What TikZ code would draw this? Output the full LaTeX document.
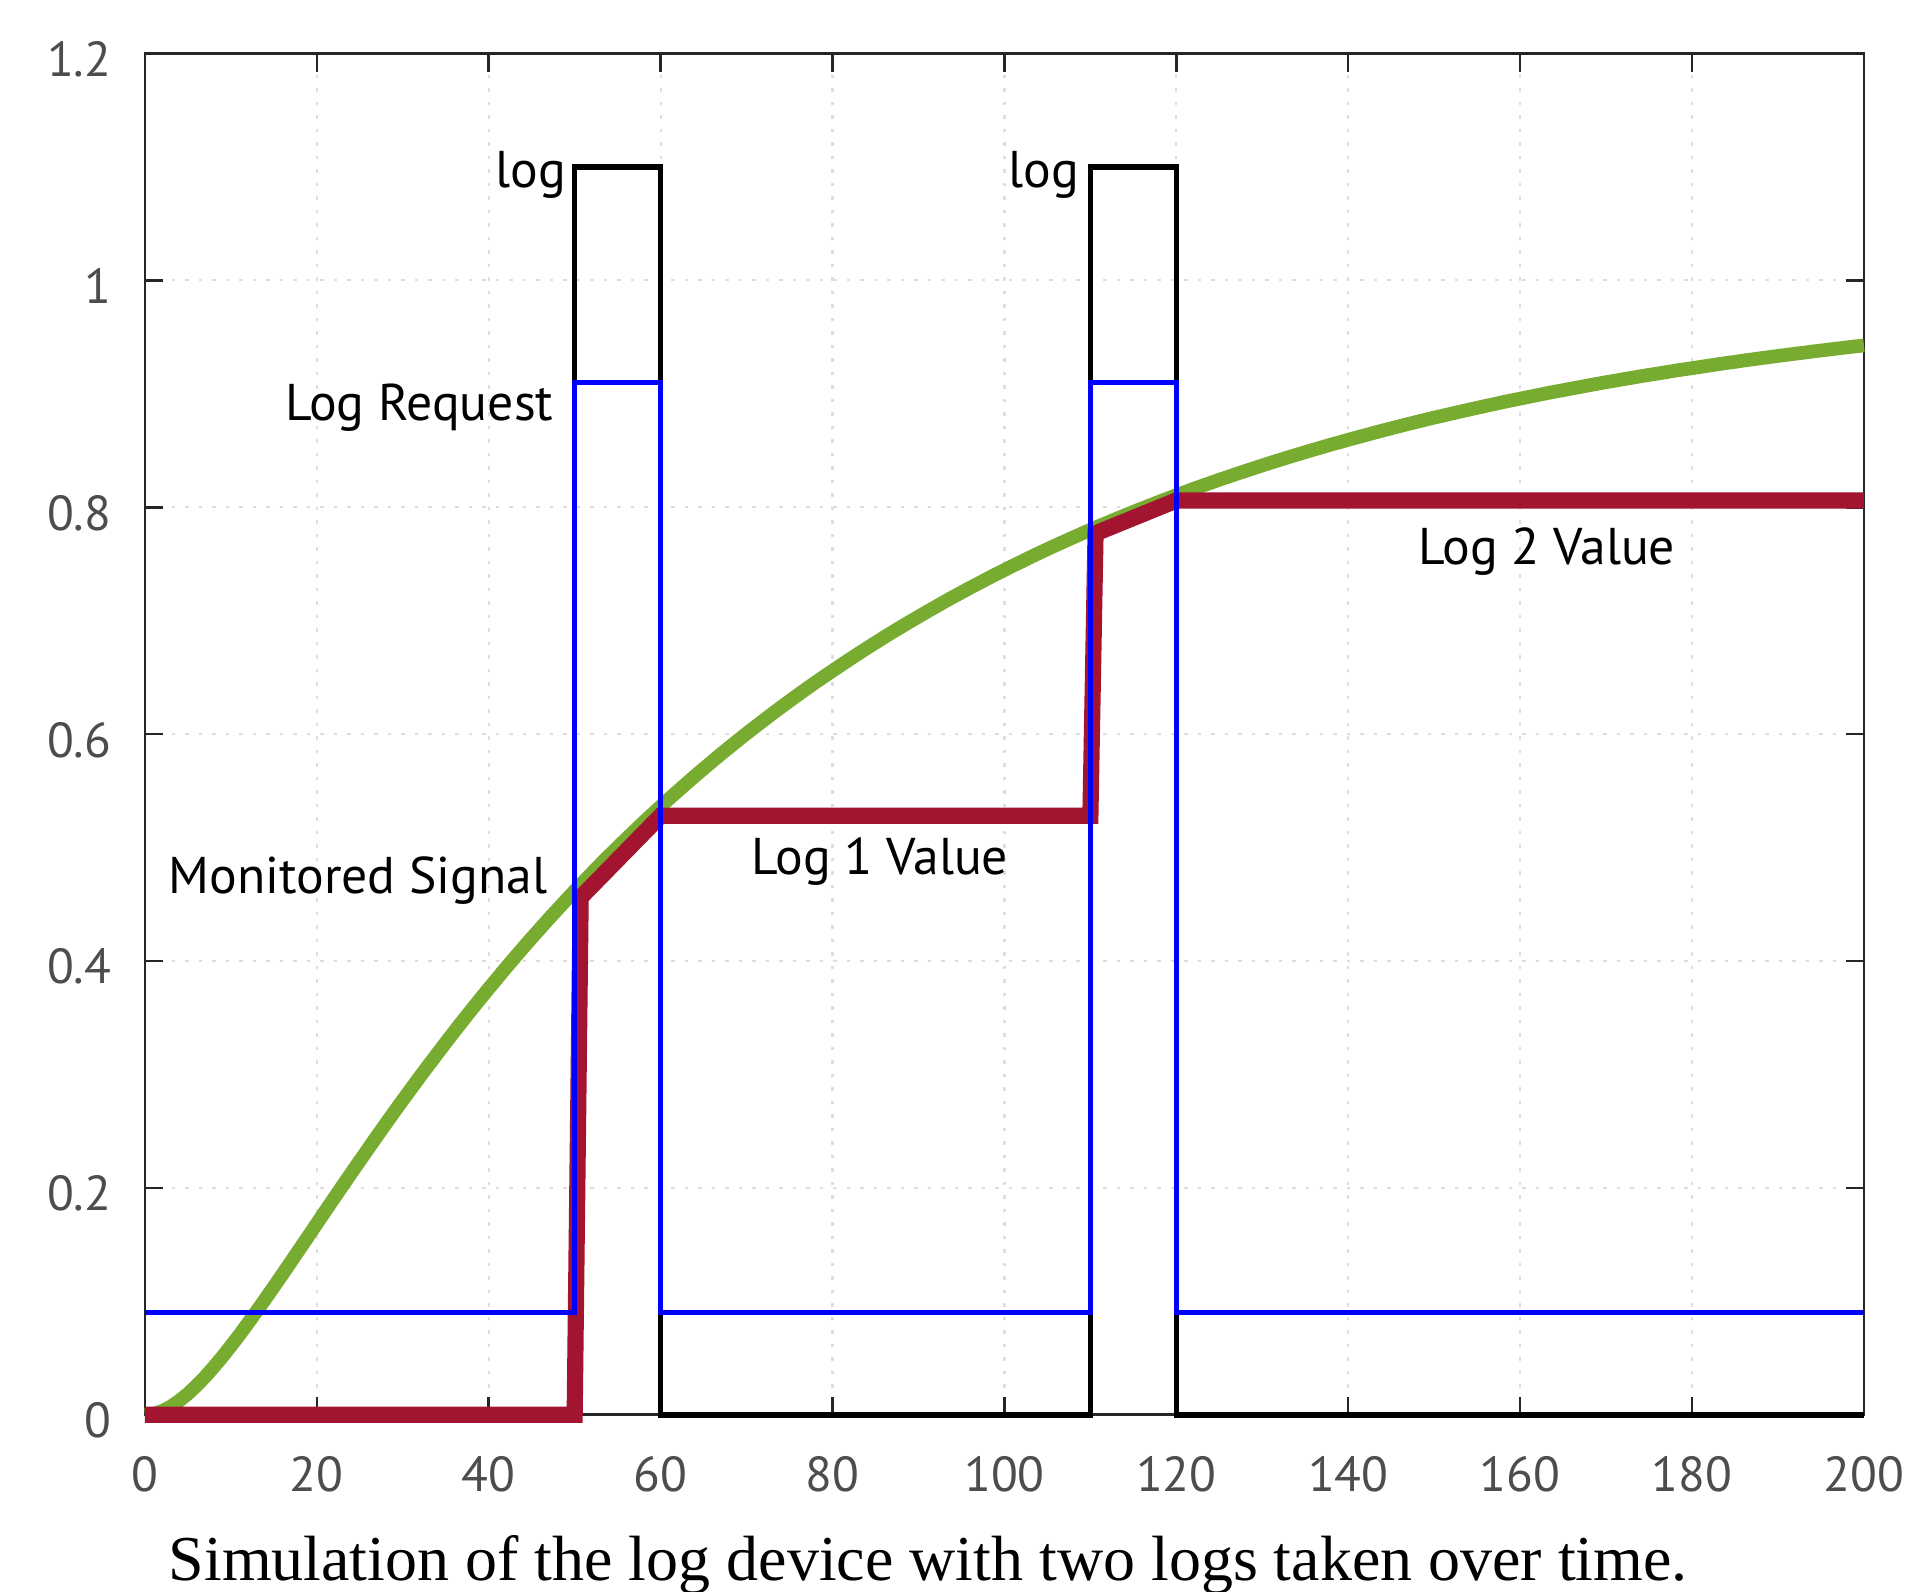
\documentclass[tikz,border=0pt]{standalone}
\usepackage{fontspec}
\setmainfont{Liberation Serif}
\newfontfamily\plotfont{PT Sans}
\definecolor{axiscol}{RGB}{38,38,38}
\definecolor{ticklab}{RGB}{77,77,77}
\definecolor{gridcol}{RGB}{222,222,222}
\definecolor{sigcol}{RGB}{119,172,48}
\definecolor{holdcol}{RGB}{162,20,47}
\definecolor{reqcol}{RGB}{0,0,255}
\tikzset{
  gridline/.style={gridcol, line width=0.6pt, dash pattern=on 0.035cm off 0.1cm},
  axisline/.style={axiscol, line width=0.7pt},
  ticklabel/.style={inner sep=0pt, text=ticklab, font=\plotfont\fontsize{14}{16}\selectfont},
  annot/.style={inner sep=0pt, text=black, font=\plotfont\fontsize{14.7}{17}\selectfont},
  logline/.style={black, line width=1.6pt},
  sigline/.style={sigcol, line width=3.9pt},
  holdline/.style={holdcol, line width=4.6pt},
  reqline/.style={reqcol, line width=1.4pt},
}
\begin{document}
\begin{tikzpicture}
\useasboundingbox (0,0) rectangle (19.09,15.91);
\fill[white] (0,0) rectangle (19.09,15.91);
\begin{scope}[shift={(1.449cm,1.763cm)}, x=0.085955cm, y=11.3425cm]
  % grid
  \foreach \gx in {20,40,...,180} \draw[gridline] (\gx,0) -- (\gx,1.2);
  \foreach \gy in {0.2,0.4,0.6,0.8,1.0} \draw[gridline] (0,\gy) -- (200,\gy);
  % axes box and ticks
  \draw[axisline] (0,0) rectangle (200,1.2);
  \foreach \gx in {20,40,...,180} {
    \draw[axisline] (\gx,0) -- ++(0,0.18cm);
    \draw[axisline] (\gx,1.2) -- ++(0,-0.18cm);
  }
  \foreach \gy in {0.2,0.4,0.6,0.8,1.0} {
    \draw[axisline] (0,\gy) -- ++(0.18cm,0);
    \draw[axisline] (200,\gy) -- ++(-0.18cm,0);
  }
  % tick labels
  \foreach \gx in {0,20,...,200}
    \path (\gx,0) ++(0,-0.77cm) node[ticklabel, anchor=base] (xl\gx) {\gx};
  \foreach \gy/\lab in {0/0,0.2/0.2,0.4/0.4,0.6/0.6,0.8/0.8,1.0/1,1.2/1.2}
    \path (0,\gy) ++(-0.33cm,-0.23cm) node[ticklabel, anchor=base east] (yl\lab) {\lab};
  % log trigger (black)
  \draw[logline] (0,0) -- (50,0) -- (50,1.1) -- (60,1.1) -- (60,0) -- (110,0)
     -- (110,1.1) -- (120,1.1) -- (120,0) -- (200,0);
  % monitored signal (green)
  \draw[sigline] plot[domain=0:200, samples=201]
     (\x, {1 - (67*exp(-\x/67) - 8*exp(-\x/8))/59});
  % held values (red)
  \draw[holdline] (0,0) -- (50,0) -- (50.7,0.456) -- (60,0.528) -- (110,0.528)
     -- (110.6,0.777) -- (120,0.806) -- (200,0.806);
  % log request (blue)
  \draw[reqline] (0,0.09) -- (50,0.09) -- (50,0.91) -- (60,0.91) -- (60,0.09)
     -- (110,0.09) -- (110,0.91) -- (120,0.91) -- (120,0.09) -- (200,0.09);
\end{scope}
% annotations
\node[annot, anchor=base east] (log1) at (5.67,14.03) {log};
\node[annot, anchor=base east] (log2) at (10.80,14.03) {log};
\node[annot, anchor=base east] (req) at (5.54,11.70) {Log Request};
\node[annot, anchor=base west] (mon) at (1.68,6.97) {Monitored Signal};
\node[annot, anchor=base west] (v1) at (7.51,7.16) {Log 1 Value};
\node[annot, anchor=base west] (v2) at (14.18,10.26) {Log 2 Value};
\node[inner sep=0pt, anchor=base west, font=\fontsize{18.2}{21}\selectfont] (cap) at (1.68,0.11)
  {Simulation of the log device with two logs taken over time.};
\end{tikzpicture}
\end{document}
